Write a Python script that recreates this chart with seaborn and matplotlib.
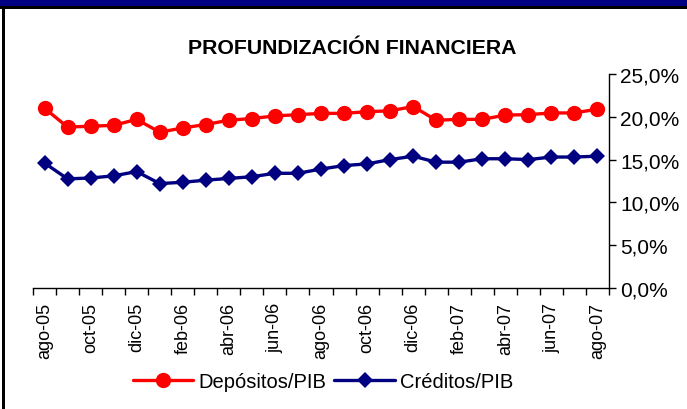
import matplotlib
matplotlib.use("Agg")
import matplotlib.pyplot as plt
import matplotlib.ticker as ticker
from matplotlib.patches import Rectangle
import seaborn as sns
import pandas as pd

# Monthly series, ago-05 .. ago-07 (percent of GDP)
months = ["ago-05", "sep-05", "oct-05", "nov-05", "dic-05", "ene-06", "feb-06",
          "mar-06", "abr-06", "may-06", "jun-06", "jul-06", "ago-06", "sep-06",
          "oct-06", "nov-06", "dic-06", "ene-07", "feb-07", "mar-07", "abr-07",
          "may-07", "jun-07", "jul-07", "ago-07"]
depositos = [21.0, 18.8, 18.9, 19.0, 19.7, 18.2, 18.7, 19.1, 19.6, 19.8, 20.1,
             20.25, 20.4, 20.4, 20.6, 20.7, 21.2, 19.6, 19.7, 19.7, 20.2,
             20.25, 20.45, 20.45, 20.9]
creditos = [14.6, 12.75, 12.85, 13.1, 13.6, 12.2, 12.35, 12.6, 12.8, 13.0, 13.4,
            13.4, 13.9, 14.3, 14.5, 15.0, 15.4, 14.7, 14.7, 15.1, 15.1,
            15.0, 15.3, 15.3, 15.4]
yticks = [0, 5, 10, 15, 20, 25]

RED = "#ff0000"
NAVY = "#000080"

df = pd.DataFrame({"idx": range(len(months)), "Depósitos/PIB": depositos,
                   "Créditos/PIB": creditos})

sns.set_style("white")
plt.rcParams["font.family"] = ["Liberation Sans", "DejaVu Sans"]
plt.rcParams["text.color"] = "black"
plt.rcParams["xtick.color"] = "black"
plt.rcParams["ytick.color"] = "black"

fig = plt.figure(figsize=(6.87, 4.10), dpi=100)
ax = fig.add_axes([33 / 687, 1 - 289 / 410, (609 - 33) / 687, (289 - 75) / 410])

sns.lineplot(data=df, x="idx", y="Depósitos/PIB", ax=ax, color=RED, marker="o",
             markersize=11, markeredgewidth=0, linewidth=2.4, label="Depósitos/PIB")
sns.lineplot(data=df, x="idx", y="Créditos/PIB", ax=ax, color=NAVY, marker="D",
             markersize=8, markeredgewidth=0, linewidth=2.4, label="Créditos/PIB")

ax.set_xlim(-0.5, len(months) - 0.5)
ax.set_ylim(0, 25)
ax.set_xlabel("")
ax.set_ylabel("")

# y axis on the right
ax.yaxis.tick_right()
ax.set_yticks(yticks)
ax.yaxis.set_major_formatter(ticker.FuncFormatter(lambda v, p: f"{v:.1f}%".replace(".", ",")))
ax.tick_params(axis="y", which="major", direction="out", length=5, width=1,
               labelsize=15, pad=3, right=True, left=False)

# x: labels every second month, tick marks between categories
ax.set_xticks(range(0, len(months), 2))
ax.set_xticklabels(months[::2], rotation=90, fontsize=13)
ax.set_xticks([i - 0.5 for i in range(len(months) + 1)], minor=True)
ax.tick_params(axis="x", which="major", length=0, pad=10)
ax.tick_params(axis="x", which="minor", direction="out", length=5, width=1,
               bottom=True)

for s in ["left", "top"]:
    ax.spines[s].set_visible(False)
for s in ["right", "bottom"]:
    ax.spines[s].set_color("black")
    ax.spines[s].set_linewidth(1)
ax.grid(False)

fig.text(352 / 687, 1 - 48 / 410, "PROFUNDIZACIÓN FINANCIERA", ha="center",
         va="center", fontsize=15.3, fontweight="bold")

leg = ax.legend(loc="center", bbox_to_anchor=(323 / 687, 1 - 383 / 410),
                bbox_transform=fig.transFigure, ncol=2, frameon=False,
                fontsize=14.5, handlelength=3.0, handletextpad=0.25,
                columnspacing=0.4, borderaxespad=0)

# frame decorations: navy bar on top, black rules
fig.patches.append(Rectangle((0, 1 - 7 / 410), 1, 7 / 410, transform=fig.transFigure,
                             facecolor=NAVY, edgecolor="none", zorder=5))
fig.patches.append(Rectangle((0, 1 - 10 / 410), 1, 3 / 410, transform=fig.transFigure,
                             facecolor="black", edgecolor="none", zorder=5))
fig.patches.append(Rectangle((2 / 687, 0), 3 / 687, 1 - 10 / 410, transform=fig.transFigure,
                             facecolor="black", edgecolor="none", zorder=5))

fig.savefig("out.png", dpi=100, facecolor="white")
